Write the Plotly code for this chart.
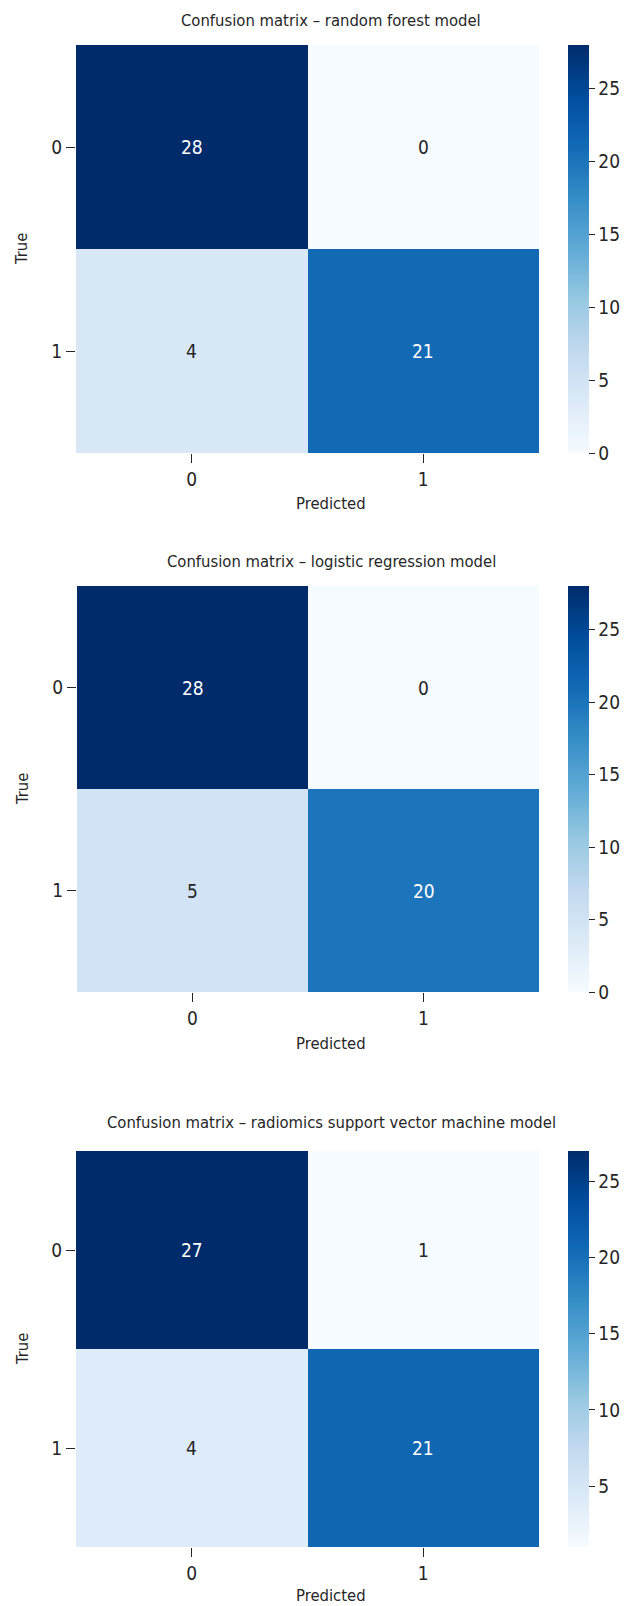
import colorsys
import plotly.graph_objects as go

# Confusion matrices (rows = true class, columns = predicted class)
class_labels = ["0", "1"]
rf_matrix = [[28, 0], [4, 21]]
lr_matrix = [[28, 0], [5, 20]]
svm_matrix = [[27, 1], [4, 21]]

titles = [
    "Confusion matrix – random forest model",
    "Confusion matrix – logistic regression model",
    "Confusion matrix – radiomics support vector machine model",
]
matrices = [rf_matrix, lr_matrix, svm_matrix]
cbar_ticks = [[0, 5, 10, 15, 20, 25], [0, 5, 10, 15, 20, 25], [5, 10, 15, 20, 25]]

# ColorBrewer "Blues", slightly more saturated
blues = ["#f7fbff", "#deebf7", "#c6dbef", "#9ecae1", "#6baed6",
         "#4292c6", "#2171b5", "#08519c", "#08306b"]


def boost(hex_color, k=1.1):
    r, g, b = (int(hex_color[i:i + 2], 16) / 255 for i in (1, 3, 5))
    h, s, v = colorsys.rgb_to_hsv(r, g, b)
    r, g, b = colorsys.hsv_to_rgb(h, min(1.0, s * k), v)
    return "rgb(%d,%d,%d)" % (round(r * 255), round(g * 255), round(b * 255))


colorscale = [[i / (len(blues) - 1), boost(c)] for i, c in enumerate(blues)]

W, H = 630, 1606
FONT = "DejaVu Sans Condensed, Liberation Sans Narrow, sans-serif"
TXT = "#262626"
FS_NUM = 19
FS_LBL = 16.5

# pixel boxes of each heatmap: (left, right, top, bottom), and title offset
boxes = [(76, 539, 45, 453), (77, 539, 586, 992), (76, 539, 1151, 1547)]
title_gap = [25, 25, 29]
label_cx = 331  # horizontal centre of titles and x-axis labels
cb_left, cb_w = 568, 21

fig = go.Figure()
annotations = []
for i, (m, title, ticks, box) in enumerate(zip(matrices, titles, cbar_ticks, boxes)):
    l, r, t, b = box
    xa = "x" if i == 0 else f"x{i+1}"
    ya = "y" if i == 0 else f"y{i+1}"
    zmin = min(min(row) for row in m)
    zmax = max(max(row) for row in m)
    fig.add_trace(go.Heatmap(
        z=m, x=class_labels, y=class_labels,
        xaxis=xa, yaxis=ya,
        zmin=zmin, zmax=zmax, colorscale=colorscale,
        xgap=0, ygap=0, hoverinfo="z",
        colorbar=dict(
            x=cb_left / W, xanchor="left", xpad=0, ypad=0,
            y=1 - (t + b) / 2 / H, yanchor="middle",
            len=b - t, lenmode="pixels", thickness=cb_w,
            outlinewidth=0, ticks="outside", ticklen=6, tickwidth=1,
            tickcolor=TXT, tickvals=ticks,
            tickfont=dict(family=FONT, size=FS_NUM, color=TXT),
        ),
    ))
    axkey = "" if i == 0 else str(i + 1)
    fig.update_layout(**{
        f"xaxis{axkey}": dict(
            domain=[l / W, r / W], anchor=ya, type="category",
            ticks="outside", ticklen=9, tickwidth=1, tickcolor=TXT,
            showgrid=False, zeroline=False, showline=False,
            tickfont=dict(family=FONT, size=FS_NUM, color=TXT), fixedrange=True,
        ),
        f"yaxis{axkey}": dict(
            domain=[1 - b / H, 1 - t / H], anchor=xa, type="category",
            autorange="reversed",
            ticks="outside", ticklen=9, tickwidth=1, tickcolor=TXT,
            showgrid=False, zeroline=False, showline=False,
            tickfont=dict(family=FONT, size=FS_NUM, color=TXT), fixedrange=True,
        ),
    })
    # cell value labels
    for ri, row in enumerate(m):
        for ci, v in enumerate(row):
            frac = (v - zmin) / (zmax - zmin)
            annotations.append(dict(
                x=class_labels[ci], y=class_labels[ri], xref=xa, yref=ya,
                text=str(v), showarrow=False,
                font=dict(family=FONT, size=FS_NUM,
                          color="white" if frac > 0.55 else TXT),
            ))
    annotations.append(dict(
        x=label_cx / W, y=1 - (t - title_gap[i]) / H, xref="paper", yref="paper",
        text=title, showarrow=False, xanchor="center", yanchor="middle",
        font=dict(family=FONT, size=FS_LBL, color=TXT),
    ))
    pred_y = min(b + 51, H - 11)
    annotations.append(dict(
        x=label_cx / W, y=1 - pred_y / H, xref="paper", yref="paper",
        text="Predicted", showarrow=False, xanchor="center", yanchor="middle",
        font=dict(family=FONT, size=FS_LBL, color=TXT),
    ))
    annotations.append(dict(
        x=22 / W, y=1 - (t + b) / 2 / H, xref="paper", yref="paper",
        text="True", showarrow=False, textangle=-90,
        xanchor="center", yanchor="middle",
        font=dict(family=FONT, size=FS_LBL, color=TXT),
    ))

fig.update_layout(
    width=W, height=H, margin=dict(l=0, r=0, t=0, b=0),
    paper_bgcolor="white", plot_bgcolor="white",
    annotations=annotations, showlegend=False,
    font=dict(family=FONT, size=FS_NUM, color=TXT),
)
fig.write_html("out.html")
